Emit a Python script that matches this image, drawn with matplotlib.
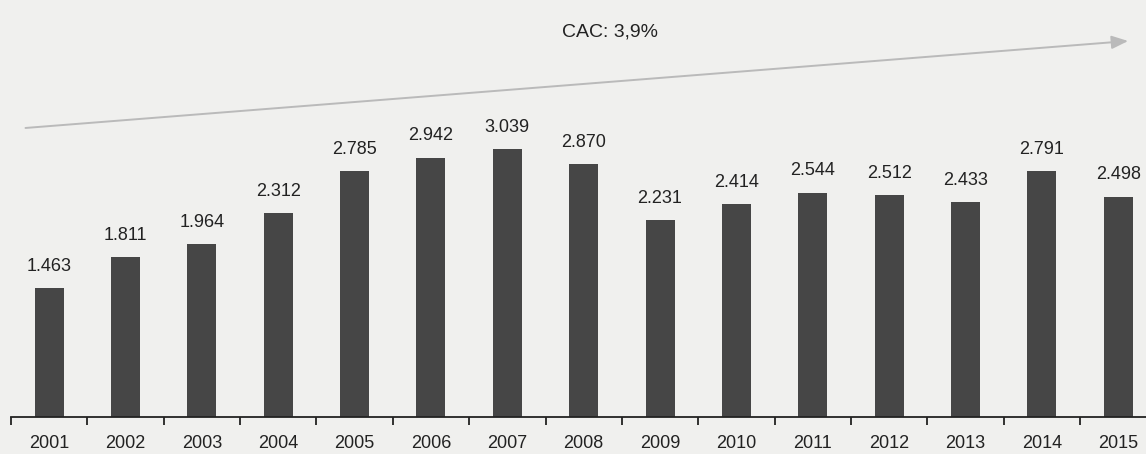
import numpy as np
import matplotlib.pyplot as plt

# data
years = ['2001', '2002', '2003', '2004', '2005', '2006', '2007', '2008',
         '2009', '2010', '2011', '2012', '2013', '2014', '2015']
values = [1.463, 1.811, 1.964, 2.312, 2.785, 2.942, 3.039, 2.870,
          2.231, 2.414, 2.544, 2.512, 2.433, 2.791, 2.498]
labels = ['1.463', '1.811', '1.964', '2.312', '2.785', '2.942', '3.039', '2.870',
          '2.231', '2.414', '2.544', '2.512', '2.433', '2.791', '2.498']
cagr_text = 'CAC: 3,9%'

plt.rcParams['font.family'] = ['Liberation Sans', 'DejaVu Sans']
bg = '#f0f0ee'

fig = plt.figure(figsize=(11.46, 4.54), dpi=100, facecolor=bg)
ax = fig.add_axes([11 / 1146, 37 / 454, 1145.4 / 1146, 417 / 454], facecolor=bg)

x = np.arange(len(years))
ax.bar(x, values, width=0.38, color='#464646')

# value labels above bars
for xi, v, lab in zip(x, values, labels):
    ax.text(xi, v + 0.15, lab, ha='center', va='bottom', fontsize=13, color='#222222')

ax.set_xlim(-0.5, len(years) - 0.5)
ax.set_ylim(0, 417 / 88.2)

# year labels under bars, tick marks at the boundaries
ax.set_xticks(x)
ax.set_xticklabels(years, fontsize=13, color='#222222')
ax.tick_params(axis='x', which='major', length=0, pad=13)
ax.set_xticks(np.arange(-0.5, len(years) + 0.5, 1), minor=True)
ax.tick_params(axis='x', which='minor', length=6, width=1.3, direction='out', color='#222222')
ax.set_yticks([])

for side in ['left', 'right', 'top']:
    ax.spines[side].set_visible(False)
ax.spines['bottom'].set_color('#222222')
ax.spines['bottom'].set_linewidth(1.3)

# growth arrow
ax.annotate('', xy=(14.13, 4.263), xytext=(-0.31, 3.277),
            arrowprops=dict(arrowstyle='-|>,head_length=1.0,head_width=0.4',
                            color='#bababa', lw=1.4, shrinkA=0, shrinkB=0))
ax.text(7.35, 4.37, cagr_text, ha='center', va='center', fontsize=14, color='#222222')

plt.savefig('out.png', dpi=100, facecolor=bg)
